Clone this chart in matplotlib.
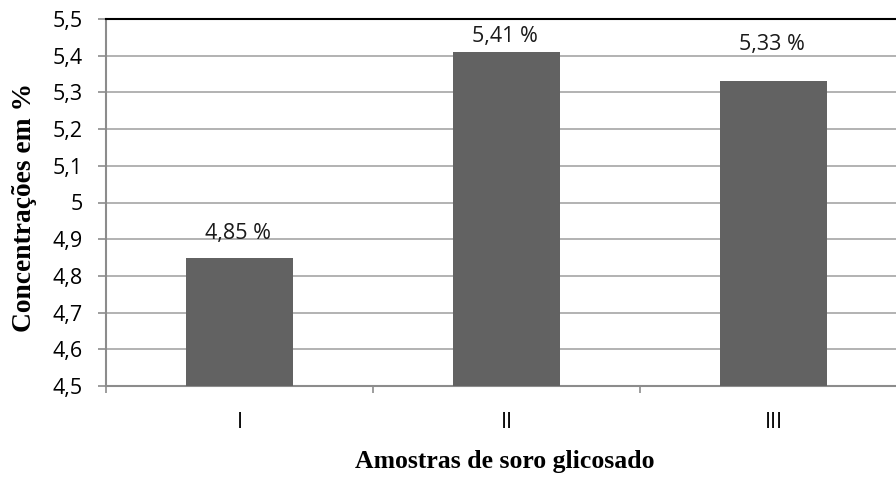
import numpy as np
import matplotlib.pyplot as plt

# amostras e concentracoes
amostras = ["I", "II", "III"]
concentracoes = [4.85, 5.41, 5.33]
rotulos = ["4,85 %", "5,41 %", "5,33 %"]
yticks = [4.5, 4.6, 4.7, 4.8, 4.9, 5.0, 5.1, 5.2, 5.3, 5.4, 5.5]
ytick_labels = ["4,5", "4,6", "4,7", "4,8", "4,9", "5", "5,1", "5,2", "5,3", "5,4", "5,5"]
# distancia (pt) entre a linha de base do rotulo e o topo da barra
dist_rotulo = [13.7, 7.2, 22.3]

cinza_barra = "#626262"
cinza_eixo = "#8c8c8c"
fonte_tick = "Open Sans"
fonte_titulo = "Liberation Serif"

fig = plt.figure(figsize=(8.96, 4.8), dpi=100)
# eixo passa um pouco da borda direita da figura
ax = fig.add_axes([106/896, 1 - 386/480, 801/896, 367/480])

x = np.arange(len(amostras))
ax.bar(x, np.array(concentracoes) - 4.5, bottom=4.5, width=0.4,
       color=cinza_barra, zorder=3)

for xi, yi, lab, d in zip(x, concentracoes, rotulos, dist_rotulo):
    ax.annotate(lab, (xi, yi), xytext=(-1, d), textcoords="offset points",
                ha="center", va="baseline", fontsize=15.5, family=fonte_tick,
                color="#1a1a1a")

ax.set_xlim(-0.5, 2.5)
ax.set_ylim(4.5, 5.5)
ax.set_yticks(yticks)
ax.set_yticklabels(ytick_labels, family=fonte_tick, fontsize=15.5)
ax.set_xticks([-0.5, 0.5, 1.5, 2.5])
ax.set_xticklabels([])
ax.set_xticks(x, minor=True)
ax.set_xticklabels(amostras, minor=True, family=fonte_tick, fontsize=15.5)
ax.tick_params(axis="x", which="major", length=5, color=cinza_eixo, width=1.2)
ax.tick_params(axis="x", which="minor", length=0, pad=19)
ax.tick_params(axis="y", length=6, color=cinza_eixo, width=1.2, pad=11)

ax.grid(axis="y", color="#a6a6a6", linewidth=1.2, zorder=0)
for s in ["left", "bottom"]:
    ax.spines[s].set_color(cinza_eixo)
    ax.spines[s].set_linewidth(1.5)
ax.spines["right"].set_visible(False)
ax.spines["top"].set_color("black")
ax.spines["top"].set_linewidth(1.5)

ax.set_xlabel("Amostras de soro glicosado", family=fonte_titulo,
              fontweight="bold", fontsize=18.5, va="baseline")
ax.xaxis.set_label_coords((505 - 106) / 801, -(468 - 386) / 367)
ax.set_ylabel("Concentrações em %", family=fonte_titulo,
              fontweight="bold", fontsize=19.8, va="center")
ax.yaxis.set_label_coords(-(106 - 25) / 801, 0.486)

fig.savefig("out.png", dpi=100)
